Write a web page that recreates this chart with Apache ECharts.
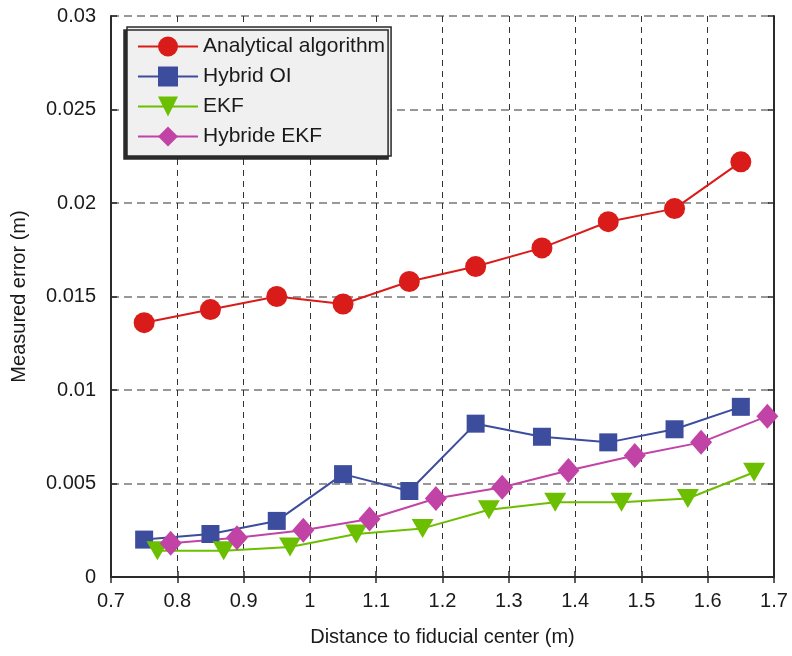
<!DOCTYPE html>
<html>
<head>
<meta charset="utf-8">
<script src="https://cdn.jsdelivr.net/npm/echarts@6/dist/echarts.min.js"></script>
<style>
  html, body { margin: 0; padding: 0; background: #fff; }
  #main { width: 792px; height: 656px; }
</style>
</head>
<body>
<div id="main"></div>
<script>
// values
var seriesNames = ['Analytical algorithm', 'Hybrid OI', 'EKF', 'Hybride EKF'];

var xAnalytical = [0.75, 0.85, 0.95, 1.05, 1.15, 1.25, 1.35, 1.45, 1.55, 1.65];
var yAnalytical = [0.0136, 0.0143, 0.0150, 0.0146, 0.0158, 0.0166, 0.0176, 0.0190, 0.0197, 0.0222];

var xHybridOI = [0.75, 0.85, 0.95, 1.05, 1.15, 1.25, 1.35, 1.45, 1.55, 1.65];
var yHybridOI = [0.0020, 0.0023, 0.0030, 0.0055, 0.0046, 0.0082, 0.0075, 0.0072, 0.0079, 0.0091];

var xEKF = [0.77, 0.87, 0.97, 1.07, 1.17, 1.27, 1.37, 1.47, 1.57, 1.67];
var yEKF = [0.0014, 0.0014, 0.0016, 0.0023, 0.0026, 0.0036, 0.0040, 0.0040, 0.0042, 0.0056];

var xHybEKF = [0.79, 0.89, 0.99, 1.09, 1.19, 1.29, 1.39, 1.49, 1.59, 1.69];
var yHybEKF = [0.0018, 0.0021, 0.0025, 0.0031, 0.0042, 0.0048, 0.0057, 0.0065, 0.0072, 0.0086];

function pairs(xs, ys) {
    return xs.map(function (x, i) { return [x, ys[i]]; });
}

var font = '"Liberation Sans", Arial, sans-serif';
var txt = '#1a1a1a';
var frame = { show: true, lineStyle: { color: '#2a2a2a', width: 2 } };
var inTick = { show: true, inside: true, length: 6, lineStyle: { color: '#2a2a2a', width: 1.5 } };

function makeSeries(name, data, color, symbol, size, rotate) {
    return {
        name: name,
        type: 'line',
        data: data,
        symbol: symbol,
        symbolSize: size,
        symbolRotate: rotate || 0,
        lineStyle: { color: color, width: 2 },
        itemStyle: { color: color },
        emphasis: { disabled: true },
        animation: false
    };
}

var chart = echarts.init(document.getElementById('main'));
var option = {
    backgroundColor: '#fff',
    textStyle: { fontFamily: font },
    grid: { left: 111, right: 18, top: 16, bottom: 79 },
    legend: {
        data: seriesNames,
        orient: 'vertical',
        left: 127,
        top: 27,
        itemWidth: 60,
        itemHeight: 25,
        itemGap: 9,
        itemTextGap: 8,
        padding: [9, 6, 9, 10],
        backgroundColor: '#f0f0f0',
        borderColor: '#2a2a2a',
        borderWidth: 1.5,
        shadowColor: '#2a2a2a',
        shadowBlur: 0,
        shadowOffsetX: -3,
        shadowOffsetY: 3,
        textStyle: { fontSize: 21, color: txt, fontFamily: font },
        itemStyle: { borderWidth: 0 }
    },
    xAxis: [{
        type: 'value',
        position: 'bottom',
        min: 0.7,
        max: 1.7,
        interval: 0.1,
        name: 'Distance to fiducial center (m)',
        nameLocation: 'middle',
        nameGap: 50,
        nameTextStyle: { fontSize: 20, color: txt, fontFamily: font },
        axisLine: frame,
        axisTick: inTick,
        axisLabel: { fontSize: 20, color: txt, margin: 14, fontFamily: font },
        splitLine: { show: true, lineStyle: { color: '#333', width: 1, type: [6, 5] } }
    }, {
        type: 'value',
        position: 'top',
        min: 0.7,
        max: 1.7,
        interval: 0.1,
        axisLine: frame,
        axisTick: inTick,
        axisLabel: { show: false },
        splitLine: { show: false }
    }],
    yAxis: [{
        type: 'value',
        position: 'left',
        min: 0,
        max: 0.03,
        interval: 0.005,
        name: 'Measured error (m)',
        nameLocation: 'middle',
        nameGap: 82,
        nameTextStyle: { fontSize: 20, color: txt, fontFamily: font },
        axisLine: frame,
        axisTick: inTick,
        axisLabel: { fontSize: 20, color: txt, margin: 15, fontFamily: font },
        splitLine: { show: true, lineStyle: { color: '#777', width: 1.5, type: [8, 5] } }
    }, {
        type: 'value',
        position: 'right',
        min: 0,
        max: 0.03,
        interval: 0.005,
        axisLine: frame,
        axisTick: inTick,
        axisLabel: { show: false },
        splitLine: { show: false }
    }],
    series: [
        makeSeries(seriesNames[0], pairs(xAnalytical, yAnalytical), '#d91c1a', 'circle', 21),
        makeSeries(seriesNames[1], pairs(xHybridOI, yHybridOI), '#3c4d9e', 'rect', 18),
        makeSeries(seriesNames[2], pairs(xEKF, yEKF), '#6cbe00', 'triangle', [22, 19], 180),
        makeSeries(seriesNames[3], pairs(xHybEKF, yHybEKF), '#c243a6', 'diamond', [22, 25])
    ]
};
chart.setOption(option);
</script>
</body>
</html>
